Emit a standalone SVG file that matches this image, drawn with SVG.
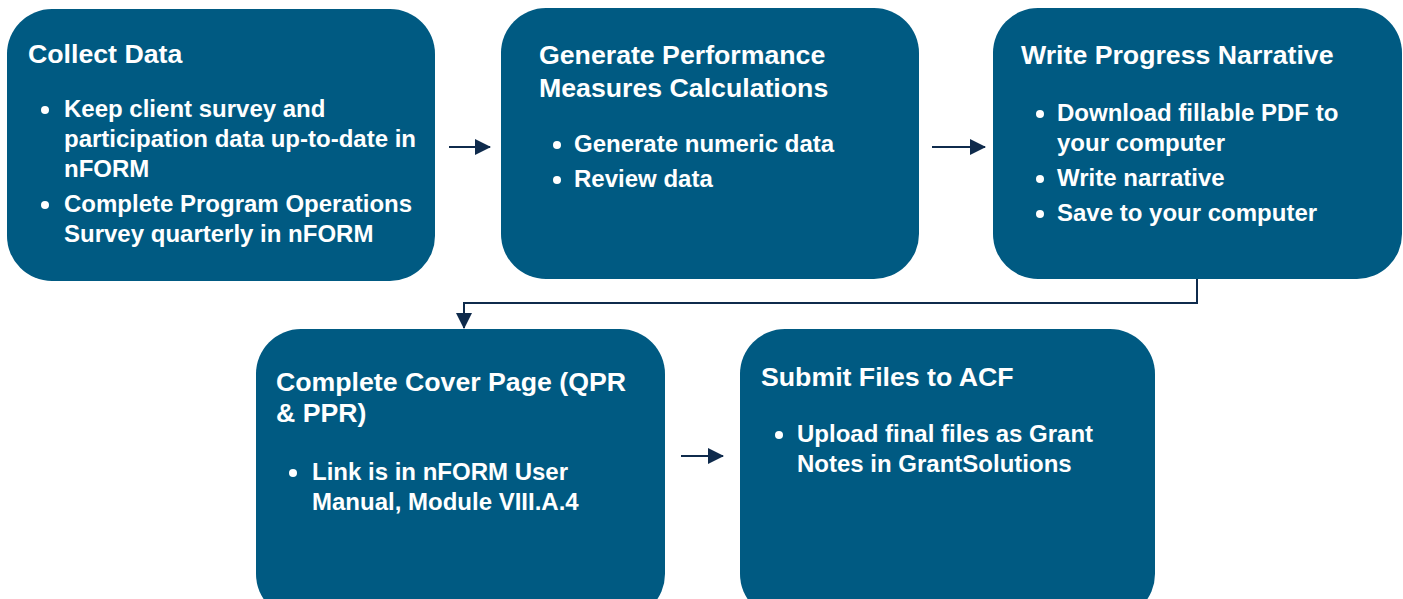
<svg xmlns="http://www.w3.org/2000/svg" width="1403" height="599" viewBox="0 0 1403 599">
<defs>
<style>
.box{fill:#005A82;}
.t{font-family:"Liberation Sans",Arial,sans-serif;font-weight:bold;fill:#fff;}
.h{font-size:26.7px;}
.b{font-size:24px;}
.c{stroke:#0F2B4C;stroke-width:2;fill:none;}
</style>
<marker id="ah" markerWidth="16" markerHeight="16" refX="15" refY="8" orient="auto" markerUnits="userSpaceOnUse">
<path d="M0,0 L16,8 L0,16 Z" fill="#0F2B4C"/>
</marker>
</defs>
<rect width="1403" height="599" fill="#fff"/>
<g id="n1">
<rect class="box" x="7" y="9" width="428" height="272" rx="45"/>
<text class="t h" x="28" y="63">Collect Data</text>
<circle cx="45" cy="110" r="4" fill="#fff"/>
<text class="t b" x="64" y="117">Keep client survey and</text>
<text class="t b" x="64" y="147">participation data up-to-date in</text>
<text class="t b" x="64" y="177">nFORM</text>
<circle cx="45" cy="205" r="4" fill="#fff"/>
<text class="t b" x="64" y="212">Complete Program Operations</text>
<text class="t b" x="64" y="242">Survey quarterly in nFORM</text>
</g>
<g id="n2">
<rect class="box" x="501" y="8" width="418" height="271" rx="45"/>
<text class="t h" x="539" y="64">Generate Performance</text>
<text class="t h" x="539" y="97">Measures Calculations</text>
<circle cx="557" cy="145" r="4" fill="#fff"/>
<text class="t b" x="574" y="152">Generate numeric data</text>
<circle cx="557" cy="180" r="4" fill="#fff"/>
<text class="t b" x="574" y="187">Review data</text>
</g>
<g id="n3">
<rect class="box" x="993" y="8" width="409" height="271" rx="45"/>
<text class="t h" x="1021" y="64">Write Progress Narrative</text>
<circle cx="1040" cy="114" r="4" fill="#fff"/>
<text class="t b" x="1057" y="121">Download fillable PDF to</text>
<text class="t b" x="1057" y="151">your computer</text>
<circle cx="1040" cy="179" r="4" fill="#fff"/>
<text class="t b" x="1057" y="186">Write narrative</text>
<circle cx="1040" cy="214" r="4" fill="#fff"/>
<text class="t b" x="1057" y="221">Save to your computer</text>
</g>
<g id="n4">
<rect class="box" x="256" y="329" width="409" height="290" rx="45"/>
<text class="t h" x="276" y="391">Complete Cover Page (QPR</text>
<text class="t h" x="276" y="422">&amp; PPR)</text>
<circle cx="293" cy="473" r="4" fill="#fff"/>
<text class="t b" x="312" y="480">Link is in nFORM User</text>
<text class="t b" x="312" y="510">Manual, Module VIII.A.4</text>
</g>
<g id="n5">
<rect class="box" x="740" y="329" width="415" height="290" rx="45"/>
<text class="t h" x="761" y="386">Submit Files to ACF</text>
<circle cx="779" cy="435" r="4" fill="#fff"/>
<text class="t b" x="797" y="442">Upload final files as Grant</text>
<text class="t b" x="797" y="472">Notes in GrantSolutions</text>
</g>
<g id="connectors">
<path class="c" d="M449,147 H490" marker-end="url(#ah)"/>
<path class="c" d="M932,147 H985" marker-end="url(#ah)"/>
<path class="c" d="M1197,279 V303 H464 V328" marker-end="url(#ah)"/>
<path class="c" d="M681,456 H723" marker-end="url(#ah)"/>
</g>
</svg>
